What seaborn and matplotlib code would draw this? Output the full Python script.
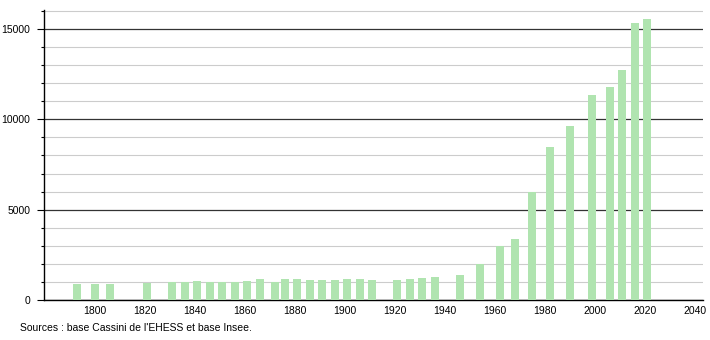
import matplotlib
matplotlib.use("Agg")
import matplotlib.pyplot as plt
import seaborn as sns
import pandas as pd
from matplotlib.ticker import MultipleLocator

years = [1793, 1800, 1806, 1821, 1831, 1836, 1841, 1846, 1851, 1856,
         1861, 1866, 1872, 1876, 1881, 1886, 1891, 1896, 1901, 1906,
         1911, 1921, 1926, 1931, 1936, 1946, 1954, 1962, 1968, 1975,
         1982, 1990, 1999, 2006, 2011, 2016, 2021]
population = [890, 900, 900, 950, 1000, 1000, 1050, 1000, 1000, 980,
              1070, 1160, 980, 1160, 1160, 1100, 1100, 1100, 1140, 1160,
              1100, 1100, 1140, 1240, 1290, 1380, 1990, 2990, 3375, 5995,
              8485, 9630, 11345, 11770, 12730, 15310, 15550]
x_ticks = [1800, 1820, 1840, 1860, 1880, 1900, 1920, 1940, 1960, 1980, 2000, 2020, 2040]
y_ticks = [0, 5000, 10000, 15000]
source_text = "Sources : base Cassini de l'EHESS et base Insee."

sns.set_theme(style="white")
plt.rcParams['font.family'] = ['Liberation Sans', 'DejaVu Sans']

df = pd.DataFrame({"year": years, "population": population})

fig = plt.figure(figsize=(7.1, 3.4), dpi=100)
ax = fig.add_axes([44/710, 1 - 300/340, (703 - 44)/710, 290/340])

ax.yaxis.set_minor_locator(MultipleLocator(1000))
ax.set_yticks(y_ticks)
ax.grid(which="minor", axis="y", color="#cccccc", linewidth=0.8)
ax.grid(which="major", axis="y", color="#333333", linewidth=0.9)
ax.set_axisbelow(True)

sns.barplot(data=df, x="year", y="population", native_scale=True,
            width=0.8, color="#b0e4b0", saturation=1, ax=ax, zorder=3,
            linewidth=0, edgecolor="#b0e4b0")

ax.set_xlim(1779.8, 2043.2)
ax.set_ylim(0, 16050)
ax.set_xticks(x_ticks)
ax.set_xticklabels([str(t) for t in x_ticks])
ax.set_yticklabels([str(t) for t in y_ticks])
ax.set_xlabel("")
ax.set_ylabel("")

for s in ["top", "right"]:
    ax.spines[s].set_visible(False)
for s in ["left", "bottom"]:
    ax.spines[s].set_color("black")
    ax.spines[s].set_linewidth(1.0)

ax.tick_params(axis="x", which="both", length=0, pad=4, labelsize=7.5, colors="black")
ax.tick_params(axis="y", which="major", length=5, width=0.8, pad=5, labelsize=7.5,
               colors="black", left=True)
ax.tick_params(axis="y", which="minor", length=2.5, width=0.8, left=True, colors="black")

fig.text(20/710, 1 - 328/340, source_text, fontsize=7.5, va="center", ha="left", color="black")

fig.savefig("out.png", dpi=100, facecolor="white")
